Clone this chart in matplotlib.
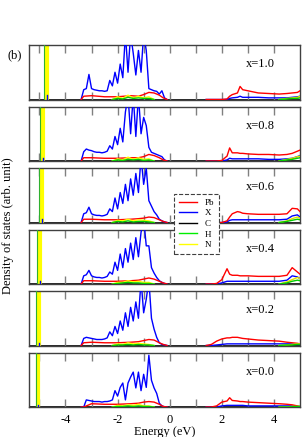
import numpy as np
import matplotlib
matplotlib.use('Agg')
import matplotlib.pyplot as plt
from matplotlib.lines import Line2D

matplotlib.rcParams['font.family'] = ['Liberation Serif', 'DejaVu Serif']
matplotlib.rcParams['axes.unicode_minus'] = False

# panel labels, top to bottom
labels = ['x=1.0', 'x=0.8', 'x=0.6', 'x=0.4', 'x=0.2', 'x=0.0']

# energy grids (eV)
EV = [-3.4, -3.3, -3.2, -3.1, -3.0, -2.9, -2.8, -2.7, -2.6, -2.5, -2.4, -2.3,
      -2.2, -2.1, -2.0, -1.9, -1.8, -1.7, -1.6, -1.5, -1.4, -1.3, -1.2, -1.1,
      -1.0, -0.9, -0.8, -0.7, -0.6, -0.5, -0.4, -0.3, -0.2, -0.1]
EVR = [-3.4, -3.3, -3.0, -2.5, -2.0, -1.5, -1.2, -1.0, -0.8, -0.6, -0.4, -0.25, -0.1]
EVS = [-2.2, -2.0, -1.8, -1.6, -1.4, -1.2, -1.0, -0.8, -0.6]
EC = [1.4, 1.6, 1.8, 2.0, 2.2, 2.3, 2.4, 2.6, 2.7, 2.8, 3.0, 3.4, 3.8, 4.2, 4.5, 4.7, 4.9, 5.0]
ECS = [4.2, 4.5, 4.7, 4.9, 5.0]

# X (blue), valence band
x_val = [
    [0, 1.8, 2.0, 4.6, 2.0, 1.8, 1.7, 1.6, 1.6, 1.5, 1.6, 3.5, 2.5, 5.0, 3.0, 6.5, 4.0,
     12, 5.0, 12, 8.5, 4.5, 9.0, 5.0, 12, 9.0, 2.0, 1.8, 1.6, 1.5, 1.0, 1.6, 0.3, 0],
    [0, 1.7, 2.2, 2.0, 1.9, 1.7, 1.6, 1.6, 1.5, 1.6, 1.8, 2.8, 2.2, 4.5, 3.0, 6.0, 3.5,
     9.0, 12, 5.0, 12, 4.5, 12, 5.0, 8.0, 6.5, 2.5, 1.6, 1.4, 1.2, 1.0, 0.8, 0.2, 0],
    [0, 1.6, 1.8, 2.8, 1.6, 1.4, 1.3, 1.3, 1.2, 1.3, 1.5, 2.5, 2.0, 4.5, 2.5, 5.5, 3.5,
     7.0, 4.0, 8.0, 5.0, 9.0, 5.5, 12, 7.0, 10, 4.0, 3.0, 2.0, 1.4, 0.6, 0.3, 0.1, 0],
    [0, 1.5, 1.7, 2.5, 1.5, 1.3, 1.2, 1.2, 1.1, 1.2, 1.4, 2.2, 1.8, 4.0, 2.5, 5.5, 3.0,
     6.5, 4.0, 7.5, 4.5, 8.5, 5.0, 9.5, 12, 7.0, 7.0, 3.0, 2.0, 1.2, 0.6, 0.3, 0.1, 0],
    [0, 1.3, 1.5, 1.4, 1.3, 1.2, 1.1, 1.1, 1.1, 1.2, 1.4, 2.5, 1.8, 3.5, 2.2, 4.5, 2.8,
     6.0, 3.5, 7.0, 4.5, 8.0, 5.0, 12, 6.0, 8.5, 12, 5.0, 3.0, 1.5, 0.5, 0.2, 0.1, 0],
    [0, 0, 1.3, 1.2, 1.1, 1.0, 1.0, 1.0, 0.9, 1.0, 1.0, 1.1, 1.3, 3.0, 2.0, 3.6, 4.4,
     1.3, 4.4, 5.5, 6.4, 3.5, 6.4, 3.0, 6.0, 3.6, 9.5, 4.9, 3.5, 2.5, 0.7, 0.2, 0.05, 0],
]
# Pb (red), valence band
pb_val = [
    [0, 0.6, 0.7, 0.5, 0.5, 0.7, 0.6, 0.9, 1.3, 1.2, 0.8, 0.3, 0],
    [0, 0.6, 0.6, 0.5, 0.5, 0.6, 0.6, 0.8, 1.2, 1.0, 0.6, 0.2, 0],
    [0, 0.6, 0.6, 0.5, 0.5, 0.6, 0.7, 0.8, 1.0, 0.9, 0.5, 0.2, 0],
    [0, 0.6, 0.6, 0.5, 0.5, 0.6, 0.7, 0.9, 1.1, 0.9, 0.5, 0.2, 0],
    [0, 0.5, 0.6, 0.5, 0.5, 0.6, 0.7, 0.9, 1.1, 1.0, 0.5, 0.2, 0],
    [0, 0, 0.6, 0.5, 0.5, 0.6, 0.7, 0.9, 1.0, 0.9, 0.5, 0.1, 0],
]
# N (yellow) and H (green), valence band
n_val = [
    [0, 0.5, 0.2, 0.8, 0.3, 0.6, 0.3, 0.5, 0],
    [0, 0.4, 0.2, 0.7, 0.3, 0.6, 0.3, 0.4, 0],
    [0, 0.4, 0.3, 0.6, 0.3, 0.5, 0.4, 0.3, 0],
    [0, 0.3, 0.3, 0.6, 0.4, 0.5, 0.3, 0.3, 0],
    [0, 0.3, 0.2, 0.5, 0.3, 0.4, 0.3, 0.2, 0],
    [0, 0.3, 0.2, 0.4, 0.3, 0.5, 0.2, 0.2, 0],
]
h_val = [
    [0, 0.2, 0.1, 0.4, 0.2, 0.3, 0.2, 0.2, 0],
    [0, 0.2, 0.1, 0.3, 0.2, 0.3, 0.1, 0.2, 0],
    [0, 0.2, 0.1, 0.3, 0.1, 0.2, 0.2, 0.1, 0],
    [0, 0.1, 0.2, 0.3, 0.2, 0.2, 0.1, 0.1, 0],
    [0, 0.1, 0.1, 0.2, 0.1, 0.2, 0.1, 0.1, 0],
    [0, 0.1, 0.1, 0.2, 0.1, 0.2, 0.1, 0.1, 0],
]
# conduction band
pb_con = [
    [0, 0, 0, 0, 0.1, 0.6, 0.9, 1.2, 2.4, 1.8, 1.6, 1.2, 1.1, 1.0, 1.1, 1.2, 1.3, 1.6],
    [0, 0, 0, 0.1, 0.9, 2.4, 1.5, 1.5, 1.4, 1.4, 1.3, 1.2, 1.2, 1.1, 1.2, 1.4, 1.8, 2.0],
    [0, 0, 0, 0, 0.3, 1.0, 1.6, 2.0, 1.9, 1.7, 1.6, 1.5, 1.5, 1.5, 1.6, 2.6, 2.5, 2.0],
    [0, 0, 0.1, 0.8, 2.8, 1.8, 1.6, 1.6, 1.5, 1.5, 1.5, 1.4, 1.4, 1.4, 1.6, 3.0, 2.2, 1.8],
    [0, 0.2, 0.8, 1.2, 1.4, 1.4, 1.5, 1.5, 1.4, 1.3, 1.2, 1.0, 0.9, 0.8, 0.6, 0.5, 0.4, 0.3],
    [0, 0, 0.2, 0.9, 1.1, 1.7, 1.2, 1.1, 1.0, 1.0, 0.9, 0.8, 0.7, 0.6, 0.5, 0.4, 0.2, 0.1],
]
x_con = [
    [0, 0, 0, 0, 0, 0.2, 0.3, 0.4, 0.6, 0.4, 0.4, 0.4, 0.3, 0.3, 0.3, 0.4, 0.5, 0.6],
    [0, 0, 0, 0, 0.2, 0.5, 0.4, 0.4, 0.4, 0.4, 0.4, 0.4, 0.3, 0.3, 0.4, 0.5, 0.8, 1.0],
    [0, 0, 0, 0, 0.1, 0.4, 0.5, 0.5, 0.5, 0.5, 0.5, 0.5, 0.5, 0.5, 0.6, 1.2, 1.4, 1.0],
    [0, 0, 0, 0.2, 0.5, 0.5, 0.5, 0.5, 0.5, 0.5, 0.5, 0.5, 0.5, 0.5, 0.7, 1.5, 1.3, 1.0],
    [0, 0, 0.1, 0.2, 0.3, 0.3, 0.3, 0.3, 0.3, 0.3, 0.3, 0.3, 0.3, 0.3, 0.3, 0.3, 0.2, 0.2],
    [0, 0, 0, 0.2, 0.3, 0.3, 0.3, 0.3, 0.3, 0.3, 0.2, 0.2, 0.2, 0.2, 0.2, 0.2, 0.1, 0.1],
]
n_con = [
    [0, 0.2, 0.3, 0.4, 0.6],
    [0, 0.3, 0.5, 0.8, 0.9],
    [0, 0.3, 0.7, 1.0, 0.8],
    [0, 0.4, 0.8, 1.2, 1.0],
    [0, 0.1, 0.2, 0.3, 0.3],
    [0, 0, 0.1, 0.1, 0.1],
]
h_con = [
    [0, 0.1, 0.2, 0.2, 0.3],
    [0, 0.2, 0.3, 0.5, 0.6],
    [0, 0.2, 0.4, 0.6, 0.5],
    [0, 0.2, 0.5, 0.7, 0.6],
    [0, 0.1, 0.1, 0.2, 0.2],
    [0, 0, 0.05, 0.1, 0.1],
]
# sharp N / H states deep below the valence band
n_peak = [-4.72, -4.85, -4.92, -4.97, -5.02, -5.05]
h_peak = [-4.84, -4.96, -5.03, -5.08, -5.12, -5.15]
x_peak_height = [0.8, 0.6, 0.6, 0.5, 0.5, 0.4]

fig = plt.figure(figsize=(3.02, 4.37), dpi=100)
W, H = 302.0, 437.0
left, right = 29, 300
top, ph, gap = 45, 54.5, 7.0
frame_col = '#404040'
tick_col = '#808080'

axes = []
for i in range(6):
    y0 = top + i * (ph + gap)
    ax = fig.add_axes([left / W, 1 - (y0 + ph) / H, (right - left) / W, ph / H])
    ax.set_xlim(-5.4, 5.0)
    ax.set_ylim(0, 10)
    # baseline lines for each species
    ax.axhline(0, color='black', lw=1.2, zorder=1)
    ax.axhline(0, color='#c8c800', lw=0.6, zorder=2)
    ax.plot([h_peak[i], h_peak[i]], [0, 20], color='#30b030', lw=0.8, zorder=3)
    ax.plot([n_peak[i], n_peak[i]], [0, 20], color='#ffff00', lw=3.0, zorder=2)
    ax.plot([n_peak[i], n_peak[i]], [0, x_peak_height[i]], color='blue', lw=1.0, zorder=4)
    ax.plot(EV, x_val[i], color='blue', lw=1.0, zorder=3)
    ax.plot(EVR, pb_val[i], color='red', lw=1.0, zorder=4)
    ax.plot(EVS, n_val[i], color='#ffff00', lw=1.0, zorder=5)
    ax.plot(EVS, h_val[i], color='#00cc00', lw=1.0, zorder=5)
    ax.plot(EC, x_con[i], color='blue', lw=1.0, zorder=3)
    ax.plot(EC, pb_con[i], color='red', lw=1.0, zorder=4)
    ax.plot(ECS, n_con[i], color='#e0e000', lw=1.0, zorder=5)
    ax.plot(ECS, h_con[i], color='#00cc00', lw=1.0, zorder=5)

    ax.set_xticks([-5, -4, -3, -2, -1, 0, 1, 2, 3, 4])
    ax.set_yticks([])
    ax.tick_params(axis='x', direction='in', top=True, bottom=True, length=6,
                   width=1.0, color=tick_col, labelsize=9, pad=5)
    if i < 5:
        ax.tick_params(axis='x', labelbottom=False)
    else:
        ax.set_xticklabels(['', '-4', '', '-2', '', '0', '', '2', '', '4'])
        ax.set_xlabel('Energy (eV)', fontsize=9, labelpad=0)
    for s in ax.spines.values():
        s.set_color(frame_col)
        s.set_linewidth(1.0)
    ax.text(0.855, 0.65, labels[i], transform=ax.transAxes, fontsize=9,
            ha='center', va='center')
    axes.append(ax)

fig.text(0.05, 1 - 55 / H, '(b)', fontsize=9, ha='center', va='center')
fig.text(0.025, 1 - 226 / H, 'Density of states (arb. unit)', fontsize=9,
         rotation=90, ha='center', va='center')

handles = [Line2D([], [], color='red', lw=1),
           Line2D([], [], color='blue', lw=1),
           Line2D([], [], color='black', lw=1),
           Line2D([], [], color='#00ee00', lw=1),
           Line2D([], [], color='#ffff00', lw=1)]
leg = fig.legend(handles, ['Pb', 'X', 'C', 'H', 'N'], loc='upper left',
                 bbox_to_anchor=(174 / W, 1 - 194 / H), fontsize=6.5,
                 handlelength=2.0, handletextpad=0.9, labelspacing=0.25,
                 borderpad=0.5, fancybox=False, framealpha=1, borderaxespad=0)
leg.get_frame().set_linestyle('--')
leg.get_frame().set_edgecolor('#404040')
leg.get_frame().set_linewidth(0.8)
leg.set_zorder(10)

fig.savefig('out.png', dpi=100)
